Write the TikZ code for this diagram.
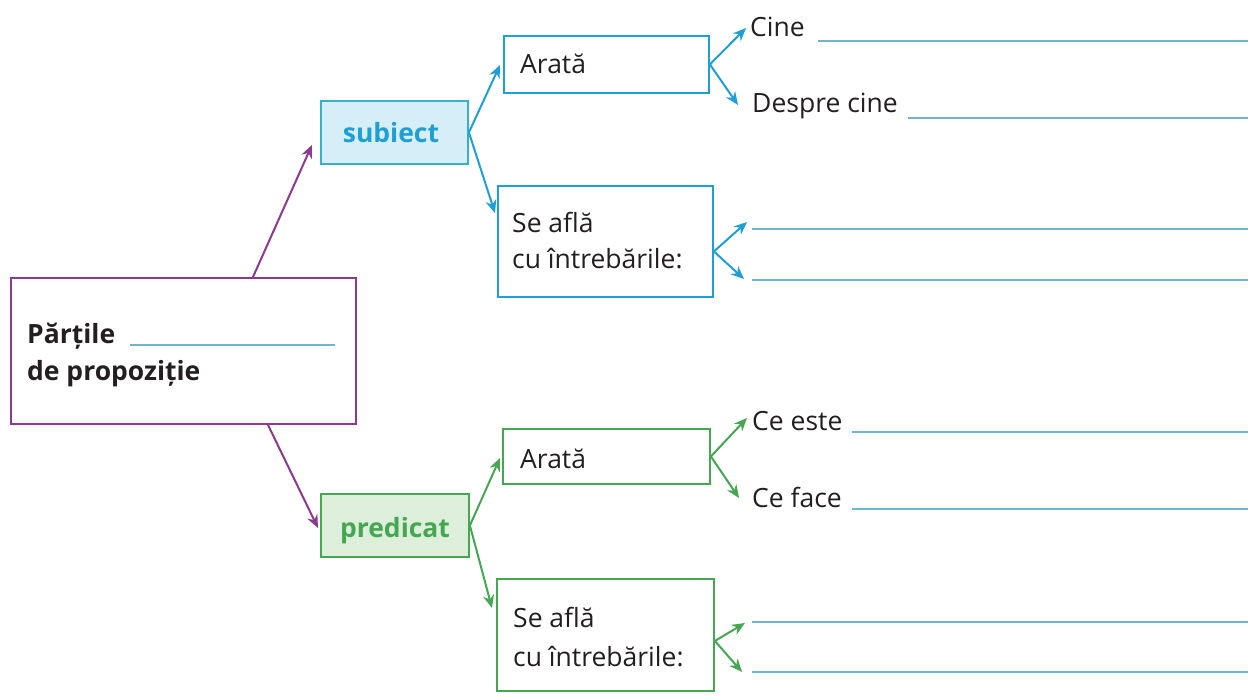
\documentclass[tikz,border=0pt]{standalone}
\usepackage{fontspec}
\setmainfont{Open Sans}
\usetikzlibrary{arrows.meta,calc}
\definecolor{cblue}{HTML}{1EA0D6}
\definecolor{cblueb}{HTML}{3AAFC9}
\definecolor{cbluef}{HTML}{D5EEF8}
\definecolor{cpurple}{HTML}{8B3A8E}
\definecolor{cgreen}{HTML}{45A752}
\definecolor{cgreenf}{HTML}{DDEEDA}
\definecolor{cline}{HTML}{70B4CE}
\definecolor{ctext}{HTML}{231F20}
\begin{document}
\begin{tikzpicture}[x=1pt,y=-1pt,
  box/.style={draw,line width=1.9pt,inner sep=0pt,anchor=north west},
  lbl/.style={anchor=base west,inner sep=0pt,text=ctext,font=\fontsize{26.5}{31}\selectfont},
  blbl/.style={anchor=base,inner sep=0pt,font=\bfseries\fontsize{26.5}{31}\selectfont},
  blank/.style={draw=cline,line width=1.8pt},
  tip/.style={-{Stealth[length=13pt,width=11pt]},line width=2pt}]
\useasboundingbox (0,0) rectangle (1254,698);
\fill[white] (0,0) rectangle (1254,698);
% boxes
\node[box,draw=cpurple,minimum width=345pt,minimum height=146pt] (main) at (10,277) {};
\node[box,draw=cblueb,fill=cbluef,minimum width=147pt,minimum height=63pt] (subj) at (320,100) {};
\node[box,draw=cgreen,fill=cgreenf,minimum width=148pt,minimum height=63pt] (pred) at (320,493) {};
\node[box,draw=cblue,minimum width=205pt,minimum height=57pt] (ar1) at (503,35) {};
\node[box,draw=cblue,minimum width=215pt,minimum height=111pt] (sa1) at (497,185) {};
\node[box,draw=cgreen,minimum width=207pt,minimum height=55pt] (ar2) at (502,428) {};
\node[box,draw=cgreen,minimum width=217pt,minimum height=112pt] (sa2) at (496,578) {};
% texts
\node[lbl,font=\bfseries\fontsize{26.5}{31}\selectfont] (t1) at (27,343) {Părțile};
\node[lbl,font=\bfseries\fontsize{26.5}{31}\selectfont] (t2) at (27,380) {de propoziție};
\node[blbl,text=cblue] (ts) at (391,143) {subiect};
\node[blbl,text=cgreen] (tp) at (395,537) {predicat};
\node[lbl] (ta1) at (520,74) {Arată};
\node[lbl] (ts1a) at (512,233) {Se află};
\node[lbl] (ts1b) at (512,268) {cu întrebările:};
\node[lbl] (ta2) at (520,468) {Arată};
\node[lbl] (ts2a) at (513,627) {Se află};
\node[lbl] (ts2b) at (513,666) {cu întrebările:};
\node[lbl] (cine) at (750,37) {Cine};
\node[lbl] (despre) at (752,113) {Despre cine};
\node[lbl] (ceeste) at (752,430) {Ce este};
\node[lbl] (ceface) at (752,507) {Ce face};
% blank lines
\coordinate (b0) at (130,345);
\coordinate (b1) at (818,41);
\coordinate (b2) at (908,118);
\coordinate (b3) at (752,229);
\coordinate (b4) at (752,280);
\coordinate (b5) at (852,432);
\coordinate (b6) at (852,509);
\coordinate (b7) at (752,622);
\coordinate (b8) at (752,672);
\draw[blank] (b0) -- (335,345);
\foreach \c in {b1,b2,b3,b4,b5,b6,b7,b8} {\draw[blank] (\c) -- (1248,0 |- \c);}
% connectors
\draw[tip,cpurple] ($(main.north west)+(243,0)$) -- ($(subj.south west)+(-8,-20)$);
\draw[tip,cpurple] ($(main.south west)+(258,0)$) -- ($(pred.north west)+(-2,35)$);
\draw[tip,cblue] (subj.east) -- ($(ar1.north west)+(-3,30)$);
\draw[tip,cblue] (subj.east) -- ($(sa1.north west)+(-2,28)$);
\draw[tip,cgreen] (pred.east) -- ($(ar2.north west)+(-2,30)$);
\draw[tip,cgreen] (pred.east) -- ($(sa2.north west)+(-4,30)$);
\draw[tip,cblue] (ar1.east) -- ($(cine.base west)+(-4,-9)$);
\draw[tip,cblue] (ar1.east) -- ($(despre.base west)+(-14,-8)$);
\draw[tip,cblue] ($(sa1.east)+(0,10)$) -- ($(b3)+(-5,-7)$);
\draw[tip,cblue] ($(sa1.east)+(0,10)$) -- ($(b4)+(-8,-1)$);
\draw[tip,cgreen] (ar2.east) -- ($(ceeste.base west)+(-5,-12)$);
\draw[tip,cgreen] (ar2.east) -- ($(ceface.base west)+(-13,-9)$);
\draw[tip,cgreen] ($(sa2.east)+(0,6)$) -- ($(b7)+(-7,1)$);
\draw[tip,cgreen] ($(sa2.east)+(0,6)$) -- ($(b8)+(-10,0)$);
\end{tikzpicture}
\end{document}
